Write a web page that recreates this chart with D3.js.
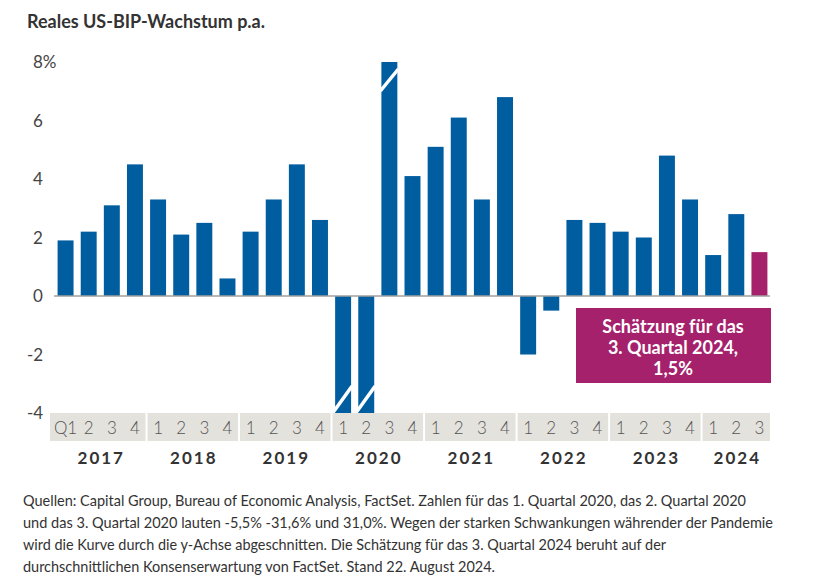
<!DOCTYPE html>
<html>
<head>
<meta charset="utf-8">
<script src="https://cdn.jsdelivr.net/npm/d3@7"></script>
<style>
  body { margin: 0; background: #fff; }
  svg { font-family: Lato, "Noto Sans", sans-serif; }
</style>
</head>
<body>
<div id="chart"></div>
<script>
// Data
const years = ["2017", "2018", "2019", "2020", "2021", "2022", "2023", "2024"];
const quarterLabels = ["Q1", "2", "3", "4"];
// real GDP growth, % annualised, 2017 Q1 .. 2024 Q3 (2020 Q1-Q3 are cut off by the axis)
const growth = [
  1.9, 2.2, 3.1, 4.5,
  3.3, 2.1, 2.5, 0.6,
  2.2, 3.3, 4.5, 2.6,
  -5.5, -31.6, 31.0, 4.1,
  5.1, 6.1, 3.3, 6.8,
  -2.0, -0.5, 2.6, 2.5,
  2.2, 2.0, 4.8, 3.3,
  1.4, 2.8, 1.5
];
const estimateIndex = 30; // 2024 Q3 is the FactSet estimate
const yTicks = [-4, -2, 0, 2, 4, 6, 8];
const title = "Reales US-BIP-Wachstum p.a.";
const noteLines = [
  "Schätzung für das",
  "3. Quartal 2024,",
  "1,5%"
];
const footLines = [
  "Quellen: Capital Group, Bureau of Economic Analysis, FactSet. Zahlen für das 1. Quartal 2020, das 2. Quartal 2020",
  "und das 3. Quartal 2020 lauten -5,5% -31,6% und 31,0%. Wegen der starken Schwankungen währender der Pandemie",
  "wird die Kurve durch die y-Achse abgeschnitten. Die Schätzung für das 3. Quartal 2024 beruht auf der",
  "durchschnittlichen Konsenserwartung von FactSet. Stand 22. August 2024."
];
const footWidths = [723, 750, 643, 472];

const blue = "#005da0";
const pink = "#a5216c";

const width = 815, height = 582;
const svg = d3.select("#chart").append("svg")
    .attr("width", width)
    .attr("height", height);

// one entry per quarter
const data = growth.map((v, i) => ({
    key: i,
    year: years[Math.floor(i / 4)],
    q: Math.floor(i / 4) === 0 ? quarterLabels[i % 4] : String(i % 4 + 1),
    value: v
}));

const xScale = d3.scaleBand()
    .domain(data.map(d => d.key))
    .range([54, 771])
    .paddingInner(0.31)
    .paddingOuter(0.155);

const yScale = d3.scaleLinear()
    .domain([-4, 8])
    .range([413, 62])
    .clamp(true);

// title
svg.append("text")
    .attr("x", 27)
    .attr("y", 28)
    .attr("font-size", 18)
    .attr("font-weight", "bold")
    .attr("fill", "#333")
    .attr("textLength", 238)
    .attr("lengthAdjust", "spacing")
    .text(title);

// y labels
svg.selectAll(".ytick")
    .data(yTicks)
    .enter().append("text")
    .attr("class", "ytick")
    .attr("x", d => d < 0 ? 27 : 33)
    .attr("y", d => yScale(d) + 6)
    .attr("font-size", 17)
    .attr("fill", "#444")
    .text(d => d === 8 ? "8%" : d);

// bars
svg.selectAll(".bar")
    .data(data)
    .enter().append("rect")
    .attr("class", "bar")
    .attr("x", d => xScale(d.key))
    .attr("width", xScale.bandwidth())
    .attr("y", d => yScale(Math.max(0, d.value)))
    .attr("height", d => Math.abs(yScale(d.value) - yScale(0)))
    .attr("fill", d => d.key === estimateIndex ? pink : blue);

// break marks on the bars that run off the axis
const cut = data.filter(d => d.value > yScale.domain()[1] || d.value < yScale.domain()[0]);
svg.selectAll(".cut")
    .data(cut)
    .enter().append("line")
    .attr("class", "cut")
    .attr("x1", d => xScale(d.key) - 1)
    .attr("x2", d => xScale(d.key) + xScale.bandwidth() + 1)
    .attr("y1", d => d.value > 0 ? yScale(d.value) + 29 : yScale(d.value) - 2)
    .attr("y2", d => d.value > 0 ? yScale(d.value) + 7 : yScale(d.value) - 27)
    .attr("stroke", "#fff")
    .attr("stroke-width", 3.5);

// zero line
svg.append("line")
    .attr("x1", 54)
    .attr("x2", 770)
    .attr("y1", yScale(0))
    .attr("y2", yScale(0))
    .attr("stroke", "#a0a0a0")
    .attr("stroke-width", 1.5);

// grey year boxes under the axis
const step = xScale.step();
const half = (step - xScale.bandwidth()) / 2;
const yearGroups = years.map((y, i) => {
    const qs = data.filter(d => d.year === y);
    return { year: y, first: qs[0].key, n: qs.length, idx: i };
});

svg.selectAll(".ybox")
    .data(yearGroups)
    .enter().append("rect")
    .attr("class", "ybox")
    .attr("x", d => xScale(d.first) - half + 1 - (d.idx === 0 ? 5 : 0))
    .attr("width", d => d.n * step - 2 + (d.idx === 0 ? 5 : 0))
    .attr("y", 413)
    .attr("height", 28)
    .attr("fill", "#e4e2dd");

svg.selectAll(".qlab")
    .data(data)
    .enter().append("text")
    .attr("class", "qlab")
    .attr("x", d => xScale(d.key) + xScale.bandwidth() / 2)
    .attr("y", 434)
    .attr("text-anchor", "middle")
    .attr("font-size", 17)
    .attr("font-weight", 300)
    .attr("fill", "#555")
    .text(d => d.q);

svg.selectAll(".ylab")
    .data(yearGroups)
    .enter().append("text")
    .attr("class", "ylab")
    .attr("x", d => xScale(d.first) - half + d.n * step / 2 + 1)
    .attr("y", 464)
    .attr("text-anchor", "middle")
    .attr("font-size", 17)
    .attr("font-weight", "bold")
    .attr("letter-spacing", 2)
    .attr("fill", "#333")
    .text(d => d.year);

// estimate note box
svg.append("rect")
    .attr("x", 576)
    .attr("y", 308)
    .attr("width", 195)
    .attr("height", 75)
    .attr("fill", pink);

svg.selectAll(".note")
    .data(noteLines)
    .enter().append("text")
    .attr("class", "note")
    .attr("x", 673)
    .attr("y", (d, i) => 333 + i * 21)
    .attr("text-anchor", "middle")
    .attr("font-size", 18)
    .attr("font-weight", "bold")
    .attr("fill", "#fff")
    .text(d => d);

// footnote
svg.selectAll(".foot")
    .data(footLines)
    .enter().append("text")
    .attr("class", "foot")
    .attr("x", 23)
    .attr("y", (d, i) => 506 + i * 22)
    .attr("font-size", 15)
    .attr("fill", "#333")
    .attr("textLength", (d, i) => footWidths[i])
    .attr("lengthAdjust", "spacingAndGlyphs")
    .text(d => d);
</script>
</body>
</html>
